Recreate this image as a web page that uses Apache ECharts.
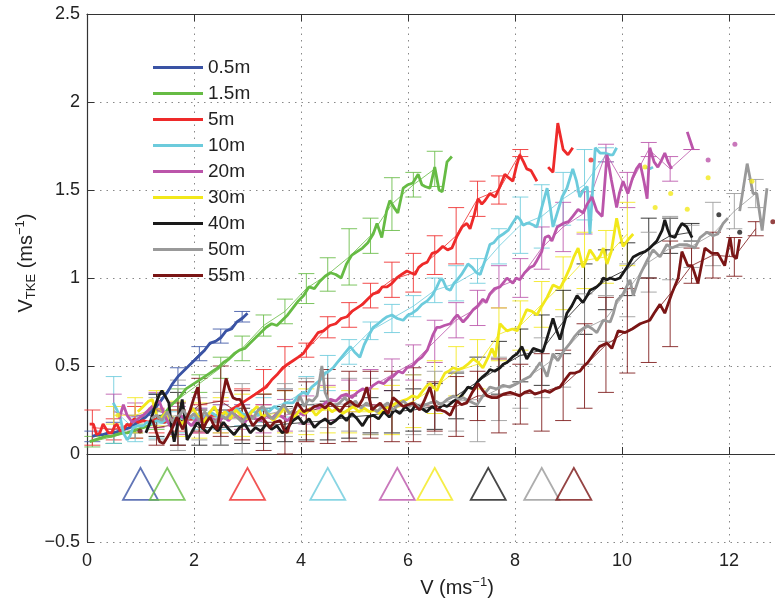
<!DOCTYPE html>
<html>
<head>
<meta charset="utf-8">
<script src="https://cdn.jsdelivr.net/npm/echarts@6/dist/echarts.min.js"></script>
<style>
html, body { margin: 0; padding: 0; background: #fff; }
#chart { width: 775px; height: 605px; }
</style>
</head>
<body>
<div id="chart"></div>
<script>
// depth names and colours
const depths = ['0.5m', '1.5m', '5m', '10m', '20m', '30m', '40m', '50m', '55m'];
const colors = ['#3a53a4', '#66bb44', '#ee2a2a', '#6ccbdc', '#bb55aa', '#f2e81a', '#1a1a1a', '#999999', '#7a1515'];

// bin centres of the averaged curves (ms-1)
const binX = [0.1, 0.5, 0.9, 1.3, 1.7, 2.1, 2.5, 2.9, 3.3, 3.7, 4.1, 4.5, 4.9, 5.3, 5.7, 6.1, 6.5, 6.9, 7.3, 7.7, 8.1, 8.5, 8.9, 9.3, 9.7, 10.1, 10.5, 10.9, 11.3, 11.7, 12.1, 12.5];
// index of the first bin for each depth
const firstBin = [0, 0, 0, 1, 1, 1, 3, 3, 3];

// bin means and standard deviations
const fit05 = [0.10, 0.12, 0.17, 0.28, 0.44, 0.57, 0.67, 0.78];
const sd05 = [0.03, 0.06, 0.05, 0.06, 0.05, 0.04, 0.04, 0.03];
const fit15 = [0.07, 0.10, 0.13, 0.19, 0.31, 0.40, 0.49, 0.60, 0.73, 0.81, 0.94, 1.02, 1.12, 1.24, 1.42, 1.53, 1.62];
const sd15 = [0.03, 0.04, 0.04, 0.05, 0.06, 0.05, 0.06, 0.07, 0.06, 0.07, 0.085, 0.095, 0.16, 0.10, 0.15, 0.07, 0.10];
const fit5 = [0.15, 0.14, 0.18, 0.19, 0.19, 0.20, 0.23, 0.29, 0.38, 0.49, 0.59, 0.72, 0.79, 0.90, 0.99, 1.03, 1.13, 1.24, 1.45, 1.50, 1.71];
const sd5 = [0.10, 0.06, 0.09, 0.07, 0.06, 0.08, 0.07, 0.08, 0.10, 0.12, 0.04, 0.06, 0.07, 0.07, 0.10, 0.11, 0.11, 0.16, 0.10, 0.08, 0.02];
const fit10 = [0.25, 0.14, 0.17, 0.18, 0.20, 0.21, 0.22, 0.25, 0.29, 0.36, 0.46, 0.58, 0.70, 0.77, 0.84, 0.93, 0.97, 1.04, 1.18, 1.30, 1.35, 1.45, 1.53, 1.70];
const sd10 = [0.19, 0.07, 0.08, 0.06, 0.06, 0.07, 0.06, 0.07, 0.08, 0.08, 0.10, 0.07, 0.05, 0.08, 0.06, 0.07, 0.10, 0.07, 0.10, 0.16, 0.18, 0.15, 0.20, 0.04];
const fit20 = [0.24, 0.21, 0.25, 0.19, 0.19, 0.20, 0.21, 0.20, 0.22, 0.25, 0.29, 0.33, 0.38, 0.45, 0.52, 0.64, 0.76, 0.83, 0.95, 1.00, 1.17, 1.29, 1.37, 1.71, 1.50, 1.73, 1.62, 1.73];
const sd20 = [0.10, 0.08, 0.10, 0.08, 0.07, 0.08, 0.07, 0.08, 0.09, 0.08, 0.10, 0.09, 0.10, 0.09, 0.10, 0.12, 0.10, 0.10, 0.12, 0.11, 0.12, 0.14, 0.12, 0.05, 0.10, 0.04, 0.07, 0.0];
const fit30 = [0.22, 0.22, 0.26, 0.20, 0.19, 0.22, 0.22, 0.22, 0.24, 0.24, 0.25, 0.24, 0.24, 0.25, 0.30, 0.38, 0.47, 0.51, 0.68, 0.73, 0.85, 0.97, 1.10, 1.12, 1.25];
const sd30 = [0.05, 0.10, 0.10, 0.10, 0.10, 0.10, 0.12, 0.12, 0.12, 0.13, 0.13, 0.12, 0.13, 0.14, 0.15, 0.15, 0.14, 0.14, 0.15, 0.14, 0.13, 0.15, 0.16, 0.15, 0.18];
const fit40 = [0.22, 0.20, 0.15, 0.15, 0.16, 0.16, 0.17, 0.18, 0.19, 0.21, 0.22, 0.24, 0.25, 0.27, 0.33, 0.41, 0.49, 0.56, 0.59, 0.75, 0.88, 0.99, 1.05, 1.17, 1.24, 1.26];
const sd40 = [0.12, 0.15, 0.10, 0.10, 0.10, 0.10, 0.10, 0.10, 0.11, 0.12, 0.10, 0.12, 0.12, 0.13, 0.13, 0.14, 0.15, 0.15, 0.20, 0.18, 0.20, 0.17, 0.15, 0.17, 0.10, 0.05];
const fit50 = [0.20, 0.22, 0.20, 0.20, 0.20, 0.22, 0.25, 0.28, 0.29, 0.28, 0.27, 0.27, 0.28, 0.29, 0.30, 0.31, 0.37, 0.41, 0.49, 0.58, 0.71, 0.77, 0.93, 1.09, 1.17, 1.18, 1.25, 1.38, 1.48];
const sd50 = [0.12, 0.20, 0.12, 0.15, 0.20, 0.12, 0.15, 0.15, 0.14, 0.15, 0.16, 0.15, 0.17, 0.18, 0.17, 0.24, 0.18, 0.15, 0.17, 0.20, 0.20, 0.13, 0.15, 0.17, 0.18, 0.12, 0.18, 0.10, 0.08];
const fit55 = [0.15, 0.17, 0.28, 0.30, 0.22, 0.18, 0.18, 0.24, 0.27, 0.27, 0.28, 0.27, 0.28, 0.27, 0.27, 0.33, 0.33, 0.34, 0.35, 0.39, 0.50, 0.62, 0.70, 0.76, 0.91, 1.07, 1.13, 1.12, 1.28];
const sd55 = [0.10, 0.12, 0.15, 0.20, 0.14, 0.16, 0.18, 0.17, 0.21, 0.20, 0.19, 0.20, 0.21, 0.14, 0.17, 0.14, 0.21, 0.17, 0.22, 0.20, 0.24, 0.27, 0.24, 0.24, 0.30, 0.10, 0.13, 0.11, 0.04];

// raw curves [V, V_TKE]
const line05 = [[0.1,0.10],[0.2,0.11],[0.3,0.11],[0.4,0.12],[0.5,0.12],[0.6,0.13],[0.7,0.14],[0.8,0.15],[0.9,0.17],[1.0,0.19],[1.1,0.21],[1.2,0.24],[1.3,0.27],[1.4,0.31],[1.5,0.35],[1.6,0.40],[1.7,0.44],[1.8,0.47],[1.9,0.50],[2.0,0.53],[2.1,0.56],[2.2,0.59],[2.3,0.63],[2.4,0.64],[2.5,0.66],[2.6,0.70],[2.7,0.71],[2.8,0.75],[2.9,0.77],[3.0,0.80]];
const line15 = [[0.05,0.07],[0.15,0.08],[0.25,0.09],[0.35,0.10],[0.45,0.10],[0.55,0.11],[0.65,0.12],[0.75,0.12],[0.85,0.13],[0.95,0.14],[1.05,0.15],[1.15,0.16],[1.25,0.18],[1.35,0.20],[1.45,0.23],[1.55,0.27],[1.65,0.30],[1.75,0.33],[1.85,0.37],[1.95,0.39],[2.05,0.41],[2.15,0.43],[2.25,0.45],[2.35,0.47],[2.45,0.49],[2.55,0.52],[2.65,0.54],[2.75,0.57],[2.85,0.59],[2.95,0.60],[3.05,0.63],[3.15,0.66],[3.25,0.69],[3.35,0.72],[3.45,0.74],[3.55,0.73],[3.65,0.76],[3.75,0.79],[3.85,0.83],[3.95,0.87],[4.05,0.90],[4.15,0.95],[4.25,0.94],[4.35,0.98],[4.45,1.01],[4.55,1.03],[4.65,1.02],[4.75,1.00],[4.85,1.08],[4.95,1.13],[5.05,1.15],[5.15,1.17],[5.25,1.20],[5.35,1.25],[5.42,1.31],[5.51,1.23],[5.6,1.38],[5.66,1.44],[5.74,1.40],[5.81,1.37],[5.91,1.51],[6.0,1.53],[6.09,1.54],[6.19,1.59],[6.26,1.53],[6.32,1.52],[6.41,1.51],[6.5,1.63],[6.58,1.50],[6.64,1.49],[6.73,1.66],[6.82,1.69]];
const line5 = [[0.05,0.17],[0.12,0.17],[0.18,0.11],[0.24,0.12],[0.3,0.17],[0.34,0.15],[0.4,0.12],[0.46,0.12],[0.52,0.16],[0.56,0.17],[0.62,0.13],[0.68,0.14],[0.75,0.17],[0.8,0.16],[0.88,0.20],[0.95,0.18],[1.05,0.19],[1.15,0.18],[1.25,0.20],[1.35,0.19],[1.45,0.18],[1.55,0.20],[1.65,0.19],[1.75,0.21],[1.85,0.20],[1.95,0.20],[2.05,0.21],[2.15,0.20],[2.25,0.21],[2.35,0.22],[2.45,0.22],[2.55,0.23],[2.65,0.24],[2.75,0.26],[2.85,0.28],[2.95,0.30],[3.05,0.32],[3.15,0.34],[3.25,0.36],[3.35,0.38],[3.45,0.42],[3.55,0.45],[3.66,0.49],[3.75,0.51],[3.85,0.53],[3.95,0.55],[4.04,0.57],[4.15,0.62],[4.25,0.66],[4.32,0.69],[4.42,0.70],[4.54,0.73],[4.65,0.74],[4.75,0.77],[4.86,0.78],[4.95,0.81],[5.05,0.83],[5.15,0.85],[5.25,0.88],[5.35,0.91],[5.45,0.92],[5.52,0.95],[5.61,0.95],[5.7,0.97],[5.79,1.00],[5.88,1.02],[5.98,1.04],[6.05,1.03],[6.13,1.02],[6.2,1.06],[6.28,1.08],[6.36,1.09],[6.45,1.14],[6.55,1.15],[6.65,1.18],[6.74,1.16],[6.82,1.17],[6.92,1.24],[7.01,1.29],[7.1,1.31],[7.16,1.28],[7.24,1.36],[7.31,1.45],[7.38,1.42],[7.44,1.44],[7.53,1.48],[7.63,1.46],[7.72,1.52],[7.81,1.59],[7.88,1.57],[7.96,1.55],[8.03,1.64],[8.09,1.70],[8.16,1.66],[8.22,1.62],[8.3,1.61],[8.41,1.55],[8.5,'-'],[8.62,1.63],[8.71,1.60],[8.8,1.88],[8.9,1.73],[8.99,1.70],[9.08,1.74]];
const line10 = [[0.49,0.29],[0.56,0.25],[0.62,0.21],[0.68,0.12],[0.75,0.08],[0.8,0.10],[0.86,0.15],[0.95,0.16],[1.05,0.16],[1.12,0.18],[1.2,0.17],[1.3,0.19],[1.4,0.18],[1.5,0.20],[1.6,0.19],[1.7,0.21],[1.8,0.20],[1.9,0.22],[2.0,0.20],[2.1,0.23],[2.2,0.21],[2.3,0.24],[2.4,0.22],[2.5,0.21],[2.6,0.24],[2.7,0.22],[2.8,0.26],[2.9,0.23],[3.0,0.22],[3.1,0.25],[3.2,0.22],[3.3,0.26],[3.4,0.24],[3.5,0.27],[3.6,0.25],[3.7,0.29],[3.85,0.29],[3.95,0.33],[4.04,0.35],[4.12,0.34],[4.2,0.38],[4.28,0.40],[4.36,0.42],[4.45,0.46],[4.52,0.47],[4.6,0.49],[4.68,0.52],[4.76,0.55],[4.84,0.58],[4.92,0.61],[5.0,0.58],[5.1,0.55],[5.18,0.62],[5.26,0.67],[5.35,0.72],[5.44,0.74],[5.52,0.76],[5.61,0.78],[5.7,0.79],[5.8,0.77],[5.91,0.76],[6.0,0.79],[6.08,0.80],[6.17,0.82],[6.26,0.85],[6.36,0.87],[6.45,0.90],[6.54,0.95],[6.6,0.99],[6.65,0.99],[6.72,0.94],[6.79,0.93],[6.86,0.97],[6.92,0.99],[7.0,1.02],[7.06,1.05],[7.12,1.08],[7.2,1.06],[7.28,1.03],[7.35,1.02],[7.44,1.10],[7.53,1.19],[7.6,1.20],[7.68,1.23],[7.78,1.25],[7.87,1.27],[7.95,1.31],[8.04,1.35],[8.1,1.33],[8.15,1.30],[8.22,1.31],[8.28,1.31],[8.35,1.30],[8.41,1.29],[8.5,1.40],[8.6,1.51],[8.66,1.40],[8.71,1.29],[8.8,1.38],[8.88,1.46],[8.97,1.51],[9.08,1.62],[9.15,1.55],[9.21,1.46],[9.28,1.50],[9.35,1.52],[9.4,1.25],[9.5,1.74],[9.59,1.71],[9.68,1.71],[9.78,1.70],[9.83,1.70],[9.9,1.74],[10.2,'-'],[10.45,1.63],[10.52,1.62],[10.58,1.63]];
const line20 = [[0.6,0.20],[0.68,0.28],[0.75,0.22],[0.85,0.18],[0.95,0.20],[1.05,0.22],[1.15,0.25],[1.25,0.28],[1.35,0.30],[1.45,0.22],[1.55,0.16],[1.65,0.17],[1.75,0.22],[1.85,0.19],[1.95,0.16],[2.05,0.20],[2.15,0.18],[2.25,0.22],[2.35,0.20],[2.45,0.18],[2.55,0.21],[2.65,0.19],[2.75,0.23],[2.85,0.20],[2.95,0.18],[3.05,0.22],[3.15,0.20],[3.25,0.19],[3.35,0.22],[3.45,0.20],[3.55,0.23],[3.65,0.21],[3.75,0.19],[3.85,0.22],[3.95,0.24],[4.05,0.22],[4.15,0.25],[4.25,0.27],[4.35,0.26],[4.45,0.29],[4.55,0.31],[4.65,0.30],[4.75,0.33],[4.85,0.34],[4.95,0.32],[5.05,0.35],[5.15,0.37],[5.25,0.36],[5.35,0.39],[5.45,0.41],[5.55,0.40],[5.65,0.43],[5.72,0.44],[5.82,0.47],[5.9,0.46],[5.98,0.49],[6.08,0.50],[6.17,0.53],[6.26,0.55],[6.36,0.59],[6.47,0.68],[6.54,0.72],[6.6,0.72],[6.68,0.73],[6.79,0.74],[6.86,0.77],[6.92,0.79],[7.03,0.75],[7.12,0.78],[7.22,0.82],[7.3,0.84],[7.4,0.88],[7.46,0.86],[7.53,0.91],[7.62,0.94],[7.72,0.95],[7.8,0.98],[7.85,1.00],[7.96,0.97],[8.02,1.00],[8.09,0.99],[8.18,1.03],[8.28,1.06],[8.35,1.07],[8.41,1.10],[8.5,1.15],[8.56,1.23],[8.63,1.24],[8.69,1.21],[8.79,1.29],[8.9,1.31],[9.0,1.32],[9.08,1.35],[9.18,1.39],[9.27,1.37],[9.35,1.42],[9.44,1.46],[9.53,1.38],[9.63,1.35],[9.72,1.70],[9.8,1.56],[9.9,1.40],[9.95,1.48],[10.02,1.55],[10.11,1.48],[10.2,1.57],[10.27,1.62],[10.34,1.65],[10.41,1.55],[10.47,1.45],[10.52,1.74],[10.6,1.66],[10.67,1.63],[10.74,1.67],[10.8,1.71],[10.86,1.66],[10.93,1.62],[11.1,'-'],[11.22,1.83],[11.33,1.73]];
const line30 = [[0.95,0.24],[1.05,0.27],[1.15,0.30],[1.22,0.31],[1.3,0.22],[1.38,0.20],[1.48,0.24],[1.58,0.18],[1.68,0.20],[1.78,0.17],[1.88,0.22],[1.98,0.26],[2.08,0.21],[2.18,0.18],[2.28,0.23],[2.38,0.27],[2.48,0.21],[2.58,0.24],[2.68,0.20],[2.78,0.25],[2.88,0.22],[2.98,0.20],[3.08,0.24],[3.18,0.27],[3.28,0.21],[3.38,0.23],[3.48,0.19],[3.58,0.22],[3.68,0.26],[3.78,0.24],[3.88,0.21],[3.98,0.25],[4.08,0.23],[4.18,0.26],[4.28,0.22],[4.38,0.25],[4.48,0.27],[4.58,0.24],[4.68,0.26],[4.78,0.23],[4.88,0.25],[4.98,0.27],[5.08,0.24],[5.18,0.26],[5.28,0.24],[5.38,0.25],[5.48,0.23],[5.58,0.26],[5.68,0.27],[5.78,0.29],[5.88,0.30],[5.98,0.31],[6.08,0.33],[6.18,0.32],[6.28,0.36],[6.36,0.39],[6.41,0.40],[6.54,0.36],[6.62,0.42],[6.69,0.46],[6.76,0.47],[6.84,0.49],[6.94,0.48],[7.03,0.49],[7.12,0.51],[7.22,0.54],[7.31,0.52],[7.4,0.49],[7.5,0.55],[7.57,0.60],[7.63,0.55],[7.72,0.74],[7.78,0.72],[7.85,0.70],[7.95,0.71],[8.04,0.70],[8.13,0.76],[8.22,0.82],[8.32,0.81],[8.41,0.79],[8.5,0.84],[8.6,0.89],[8.71,0.96],[8.78,0.95],[8.84,0.94],[8.94,1.00],[9.03,1.06],[9.1,1.12],[9.18,1.17],[9.27,1.06],[9.33,1.10],[9.4,1.16],[9.47,1.13],[9.53,1.10],[9.6,1.13],[9.65,1.17],[9.72,1.08],[9.8,1.15],[9.9,1.34],[9.96,1.25],[10.02,1.18],[10.12,1.22],[10.21,1.25]];
const line40 = [[1.1,0.12],[1.18,0.18],[1.27,0.27],[1.34,0.33],[1.4,0.36],[1.46,0.33],[1.53,0.29],[1.58,0.15],[1.63,0.07],[1.7,0.18],[1.78,0.31],[1.83,0.20],[1.87,0.08],[1.95,0.12],[2.06,0.18],[2.15,0.15],[2.25,0.12],[2.35,0.16],[2.45,0.13],[2.55,0.18],[2.65,0.14],[2.75,0.11],[2.85,0.15],[2.95,0.17],[3.05,0.12],[3.15,0.15],[3.25,0.13],[3.35,0.17],[3.45,0.14],[3.55,0.16],[3.65,0.12],[3.75,0.15],[3.85,0.19],[3.95,0.21],[4.05,0.17],[4.15,0.20],[4.25,0.15],[4.35,0.18],[4.45,0.20],[4.55,0.17],[4.65,0.19],[4.75,0.22],[4.85,0.19],[4.95,0.23],[5.05,0.20],[5.15,0.16],[5.25,0.21],[5.35,0.22],[5.45,0.20],[5.55,0.24],[5.65,0.21],[5.75,0.25],[5.85,0.23],[5.95,0.27],[6.05,0.24],[6.15,0.28],[6.25,0.26],[6.35,0.24],[6.45,0.27],[6.55,0.25],[6.65,0.28],[6.73,0.27],[6.85,0.30],[6.97,0.32],[7.05,0.35],[7.12,0.38],[7.22,0.37],[7.3,0.41],[7.4,0.44],[7.48,0.46],[7.53,0.48],[7.62,0.47],[7.72,0.49],[7.78,0.51],[7.85,0.52],[7.95,0.55],[8.04,0.57],[8.13,0.61],[8.22,0.54],[8.34,0.60],[8.43,0.59],[8.52,0.58],[8.62,0.68],[8.71,0.77],[8.78,0.70],[8.84,0.65],[8.9,0.72],[8.97,0.80],[9.06,0.84],[9.16,0.90],[9.27,0.86],[9.35,0.90],[9.4,0.93],[9.47,0.94],[9.53,0.95],[9.6,0.97],[9.65,1.00],[9.72,0.99],[9.78,1.00],[9.87,0.99],[9.96,1.00],[10.09,1.06],[10.21,1.12],[10.34,1.14],[10.43,1.15],[10.52,1.17],[10.65,1.21],[10.75,1.27],[10.8,1.33],[10.85,1.28],[10.9,1.24],[10.99,1.23],[11.06,1.28],[11.12,1.31],[11.21,1.29],[11.31,1.23]];
const line50 = [[1.2,0.20],[1.3,0.22],[1.4,0.19],[1.5,0.24],[1.6,0.18],[1.7,0.21],[1.8,0.25],[1.9,0.20],[2.0,0.23],[2.1,0.19],[2.2,0.24],[2.3,0.20],[2.4,0.18],[2.5,0.22],[2.6,0.20],[2.7,0.24],[2.8,0.21],[2.9,0.18],[3.0,0.22],[3.1,0.20],[3.2,0.25],[3.29,0.27],[3.38,0.22],[3.48,0.20],[3.58,0.24],[3.68,0.28],[3.78,0.23],[3.88,0.25],[3.98,0.33],[4.06,0.27],[4.14,0.31],[4.22,0.30],[4.3,0.33],[4.39,0.50],[4.45,0.35],[4.52,0.30],[4.62,0.27],[4.72,0.29],[4.82,0.32],[4.92,0.28],[5.02,0.30],[5.12,0.26],[5.22,0.29],[5.32,0.27],[5.42,0.24],[5.52,0.27],[5.62,0.29],[5.72,0.25],[5.82,0.28],[5.92,0.30],[6.02,0.27],[6.12,0.29],[6.22,0.26],[6.32,0.28],[6.41,0.29],[6.52,0.30],[6.62,0.28],[6.73,0.31],[6.85,0.33],[6.95,0.31],[7.03,0.32],[7.15,0.30],[7.29,0.28],[7.4,0.33],[7.53,0.38],[7.65,0.37],[7.78,0.39],[7.9,0.38],[8.04,0.40],[8.15,0.42],[8.28,0.44],[8.38,0.48],[8.47,0.52],[8.54,0.48],[8.6,0.44],[8.71,0.57],[8.8,0.53],[8.9,0.58],[9.03,0.63],[9.12,0.67],[9.21,0.70],[9.35,0.73],[9.45,0.71],[9.53,0.69],[9.65,0.76],[9.78,0.75],[9.84,0.80],[9.9,0.87],[10.02,0.91],[10.15,0.99],[10.21,0.90],[10.34,1.02],[10.47,1.10],[10.58,1.16],[10.71,1.12],[10.84,1.19],[10.93,1.17],[11.08,1.19],[11.21,1.19],[11.36,1.17],[11.46,1.23],[11.59,1.26],[11.7,1.24],[11.79,1.25],[11.89,1.31],[11.98,1.34],[12.1,'-'],[12.2,1.38],[12.34,1.65],[12.45,1.48],[12.52,1.48],[12.62,1.27],[12.71,1.51]];
const line55 = [[1.23,0.19],[1.3,0.12],[1.36,0.07],[1.43,0.06],[1.51,0.10],[1.6,0.15],[1.68,0.21],[1.74,0.17],[1.79,0.14],[1.86,0.20],[1.93,0.25],[2.0,0.32],[2.07,0.38],[2.12,0.25],[2.17,0.14],[2.23,0.18],[2.3,0.21],[2.36,0.17],[2.43,0.14],[2.52,0.30],[2.6,0.43],[2.66,0.37],[2.73,0.32],[2.8,0.31],[2.86,0.31],[2.93,0.27],[2.99,0.23],[3.05,0.19],[3.1,0.16],[3.18,0.19],[3.27,0.21],[3.35,0.18],[3.42,0.15],[3.5,0.18],[3.61,0.19],[3.68,0.14],[3.74,0.12],[3.8,0.18],[3.85,0.23],[3.93,0.29],[3.98,0.27],[4.05,0.24],[4.11,0.25],[4.17,0.25],[4.25,0.27],[4.36,0.28],[4.45,0.26],[4.54,0.29],[4.63,0.27],[4.73,0.24],[4.82,0.28],[4.92,0.30],[5.0,0.28],[5.07,0.27],[5.15,0.31],[5.23,0.38],[5.28,0.31],[5.33,0.25],[5.4,0.27],[5.48,0.29],[5.55,0.26],[5.63,0.23],[5.72,0.32],[5.8,0.30],[5.91,0.27],[6.0,0.28],[6.09,0.29],[6.15,0.27],[6.22,0.25],[6.3,0.30],[6.41,0.38],[6.48,0.30],[6.54,0.25],[6.6,0.25],[6.7,0.24],[6.79,0.22],[6.85,0.26],[6.92,0.30],[7.0,0.28],[7.1,0.29],[7.2,0.35],[7.31,0.40],[7.4,0.36],[7.48,0.33],[7.57,0.32],[7.66,0.32],[7.78,0.34],[7.91,0.35],[8.0,0.34],[8.09,0.33],[8.18,0.35],[8.28,0.36],[8.37,0.34],[8.47,0.35],[8.56,0.36],[8.65,0.35],[8.75,0.37],[8.84,0.38],[8.93,0.42],[9.03,0.46],[9.12,0.46],[9.21,0.47],[9.29,0.50],[9.36,0.52],[9.43,0.55],[9.5,0.58],[9.58,0.61],[9.65,0.62],[9.72,0.63],[9.81,0.60],[9.93,0.70],[10.06,0.69],[10.19,0.71],[10.34,0.74],[10.52,0.76],[10.6,0.80],[10.71,0.85],[10.8,0.80],[10.93,0.91],[11.05,1.00],[11.12,1.15],[11.23,1.07],[11.31,1.07],[11.42,0.97],[11.55,1.17],[11.68,1.14],[11.79,1.14],[11.92,1.07],[12.02,1.23],[12.07,1.13],[12.14,1.11],[12.2,1.22]];

// isolated single points
const dots5 = [[9.42,1.67]];
const dots20 = [[11.61,1.67],[12.11,1.76]];
const dots30 = [[0.58,0.22],[10.43,1.63],[10.62,1.40],[10.91,1.48],[11.22,1.39],[11.61,1.57],[12.43,1.55]];
const dots40 = [[11.81,1.36],[12.2,1.26]];
const dots55 = [[0.99,0.13],[12.82,1.32]];

// triangle markers
const triX = [1.0, 1.5, 3.0, 4.5, 5.8, 6.5, 7.5, 8.5, 9.1];
const triY = -0.17;

const lines = [line05, line15, line5, line10, line20, line30, line40, line50, line55];
const fits = [fit05, fit15, fit5, fit10, fit20, fit30, fit40, fit50, fit55];
const sds = [sd05, sd15, sd5, sd10, sd20, sd30, sd40, sd50, sd55];
const dots = [[], [], dots5, [], dots20, dots30, dots40, [], dots55];

const FONT = '"Liberation Sans", Arial, Helvetica, sans-serif';

function errRender(params, api) {
  const x = api.value(0);
  const hi = api.coord([x, api.value(2)]);
  const lo = api.coord([x, api.value(1)]);
  const w = 8;
  const style = { stroke: api.visual('color'), lineWidth: 1, opacity: 0.85 };
  return {
    type: 'group',
    children: [
      { type: 'line', shape: { x1: hi[0], y1: hi[1], x2: lo[0], y2: lo[1] }, style: style },
      { type: 'line', shape: { x1: hi[0] - w, y1: hi[1], x2: hi[0] + w, y2: hi[1] }, style: style },
      { type: 'line', shape: { x1: lo[0] - w, y1: lo[1], x2: lo[0] + w, y2: lo[1] }, style: style }
    ]
  };
}

const series = [];
// error bars first
depths.forEach((d, i) => {
  const f = fits[i], s = sds[i], b = firstBin[i];
  series.push({
    name: d + ' err',
    type: 'custom',
    renderItem: errRender,
    itemStyle: { color: colors[i] },
    encode: { x: 0, y: [1, 2] },
    data: f.map((m, k) => [binX[b + k], m - s[k], m + s[k]]),
    z: 1,
    silent: true
  });
});
// thin bin-mean lines
depths.forEach((d, i) => {
  const f = fits[i], b = firstBin[i];
  series.push({
    name: d + ' mean',
    type: 'line',
    data: f.map((m, k) => [binX[b + k], m]),
    showSymbol: false,
    lineStyle: { color: colors[i], width: 1, opacity: 0.8 },
    itemStyle: { color: colors[i] },
    z: 2,
    silent: true
  });
});
// thick raw curves
depths.forEach((d, i) => {
  series.push({
    name: d,
    type: 'line',
    data: lines[i],
    showSymbol: false,
    connectNulls: false,
    lineStyle: { color: colors[i], width: 2.8 },
    itemStyle: { color: colors[i] },
    z: 3,
    silent: true
  });
  if (dots[i].length) {
    series.push({
      name: d + ' pts',
      type: 'scatter',
      data: dots[i],
      symbolSize: 5,
      itemStyle: { color: colors[i] },
      z: 3,
      silent: true
    });
  }
});
// triangles
series.push({
  name: 'markers',
  type: 'scatter',
  data: triX.map((x, i) => ({
    value: [x, triY],
    itemStyle: { color: 'rgba(0,0,0,0)', borderColor: colors[i], borderWidth: 1.8 }
  })),
  symbol: 'triangle',
  symbolSize: [35, 32],
  z: 4,
  silent: true
});

const chart = echarts.init(document.getElementById('chart'));
chart.setOption({
  animation: false,
  backgroundColor: '#fff',
  grid: { left: 87, right: 0, top: 14, bottom: 63, containLabel: false, outerBoundsMode: 'none' },
  legend: {
    data: depths,
    orient: 'vertical',
    left: 153,
    top: 58,
    padding: 0,
    itemWidth: 50,
    itemHeight: 3,
    itemGap: 7,
    icon: 'rect',
    selectedMode: false,
    textStyle: { fontSize: 19, fontFamily: FONT, color: '#222' }
  },
  xAxis: [{
    type: 'value',
    min: 0,
    max: 12.86,
    interval: 2,
    axisLine: { show: true, lineStyle: { color: '#333', width: 1.2 } },
    axisTick: { show: true, inside: true, length: 7, lineStyle: { color: '#333' } },
    axisLabel: { fontSize: 18, fontFamily: FONT, color: '#222', margin: 10, showMaxLabel: false },
    splitLine: { show: true, lineStyle: { color: '#888', width: 1, type: [1.5, 5] } }
  }, {
    type: 'value',
    position: 'top',
    min: 0,
    max: 12.86,
    interval: 2,
    axisLine: { show: true, lineStyle: { color: '#333', width: 1.2 } },
    axisTick: { show: true, inside: true, length: 7, lineStyle: { color: '#333' } },
    axisLabel: { show: false },
    splitLine: { show: false }
  }],
  yAxis: {
    type: 'value',
    min: -0.5,
    max: 2.5,
    interval: 0.5,
    axisLine: { show: true, lineStyle: { color: '#333', width: 1.2 } },
    axisTick: { show: true, inside: true, length: 7, lineStyle: { color: '#333' } },
    axisLabel: {
      fontSize: 18, fontFamily: FONT, color: '#222', margin: 7,
      formatter: v => (v < 0 ? '\u2212' + Math.abs(v) : String(v))
    },
    splitLine: { show: true, lineStyle: { color: '#888', width: 1, type: [1.5, 5] } }
  },
  graphic: [{
    type: 'text',
    x: 457,
    y: 588,
    style: {
      text: '{a|V (ms}{s|\u22121}{a|)}',
      align: 'center',
      verticalAlign: 'middle',
      fill: '#222',
      rich: {
        a: { fontSize: 20, fontFamily: FONT, lineHeight: 24, verticalAlign: 'middle', fill: '#222' },
        s: { fontSize: 13, fontFamily: FONT, lineHeight: 13, verticalAlign: 'top', fill: '#222' }
      }
    }
  }, {
    type: 'text',
    x: 26,
    y: 263,
    rotation: Math.PI / 2,
    style: {
      text: '{a|V}{b|TKE}{a| (ms}{s|\u22121}{a|)}',
      align: 'center',
      verticalAlign: 'middle',
      fill: '#222',
      rich: {
        a: { fontSize: 20, fontFamily: FONT, lineHeight: 24, verticalAlign: 'middle', fill: '#222' },
        b: { fontSize: 13, fontFamily: FONT, lineHeight: 13, verticalAlign: 'bottom', fill: '#222' },
        s: { fontSize: 13, fontFamily: FONT, lineHeight: 13, verticalAlign: 'top', fill: '#222' }
      }
    }
  }],
  series: series
});
</script>
</body>
</html>
